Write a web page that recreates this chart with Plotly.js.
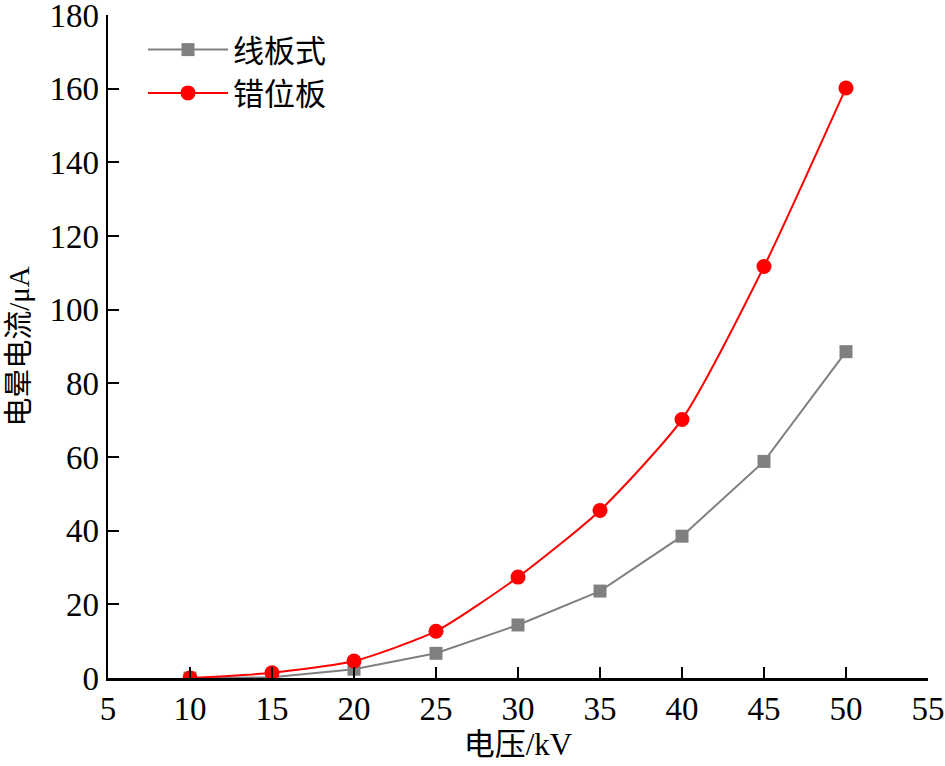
<!DOCTYPE html>
<html>
<head>
<meta charset="utf-8">
<script src="https://cdn.plot.ly/plotly-3.0.1.min.js"></script>
<style>html,body{margin:0;padding:0;background:#fff;}#chart{width:945px;height:766px;}</style>
</head>
<body>
<div id="chart"></div>
<script>
const voltage = [10, 15, 20, 25, 30, 35, 40, 45, 50];
const lineBoard = [0, 0.2, 2.4, 6.7, 14.4, 23.6, 38.5, 58.8, 88.6];
const staggeredBoard = [0, 1.4, 4.6, 12.7, 27.4, 45.5, 70.2, 111.7, 160.2];
const seriesNames = ['线板式', '错位板'];
const xTicks = [5, 10, 15, 20, 25, 30, 35, 40, 45, 50, 55];
const yTicks = [0, 20, 40, 60, 80, 100, 120, 140, 160, 180];

const FONT = 'Liberation Serif, Times New Roman, Noto Sans CJK SC, serif';
const TITLE_FONT = 'Liberation Serif, Noto Sans CJK SC, serif';

const traces = [
  {
    x: voltage, y: lineBoard, name: seriesNames[0], type: 'scatter', mode: 'lines+markers',
    line: {color: '#808080', width: 2},
    marker: {symbol: 'square', size: 13, color: '#808080'}
  },
  {
    x: voltage, y: staggeredBoard, name: seriesNames[1], type: 'scatter', mode: 'lines+markers',
    line: {color: '#ff0000', width: 2, shape: 'spline', smoothing: 0.6},
    marker: {symbol: 'circle', size: 15, color: '#ff0000'}
  }
];

const layout = {
  width: 945, height: 766,
  margin: {l: 108, r: 17, t: 15, b: 88},
  paper_bgcolor: '#fff', plot_bgcolor: '#fff',
  font: {family: FONT, color: '#000', size: 33},
  showlegend: true,
  legend: {
    x: 0.0427, y: 0.988, xanchor: 'left', yanchor: 'top',
    bgcolor: 'rgba(0,0,0,0)', borderwidth: 0,
    font: {family: TITLE_FONT, size: 31, color: '#000'},
    tracegroupgap: 0, itemwidth: 80
  },
  xaxis: {
    range: [5, 55], tickmode: 'array', tickvals: xTicks, ticktext: xTicks.map(String),
    ticks: 'inside', ticklen: 11, tickwidth: 2, tickcolor: '#000',
    showline: true, linecolor: '#000', linewidth: 2.5, mirror: false,
    showgrid: false, zeroline: false, ticklabeloverflow: 'allow',
    tickfont: {family: FONT, size: 33, color: '#000'},
    title: {text: '电压/kV', font: {family: TITLE_FONT, size: 31, color: '#000'}, standoff: 5}
  },
  yaxis: {
    range: [0, 180], tickmode: 'array', tickvals: yTicks, ticktext: yTicks.map(String),
    ticks: 'inside', ticklen: 11, tickwidth: 2, tickcolor: '#000',
    showline: true, linecolor: '#000', linewidth: 2.5, mirror: false,
    showgrid: false, zeroline: false, ticklabeloverflow: 'allow',
    tickfont: {family: FONT, size: 33, color: '#000'},
    title: {text: '电晕电流/μA', font: {family: TITLE_FONT, size: 29, color: '#000'}, standoff: 12}
  }
};

Plotly.newPlot('chart', traces, layout, {displayModeBar: false, staticPlot: true});
</script>
</body>
</html>
